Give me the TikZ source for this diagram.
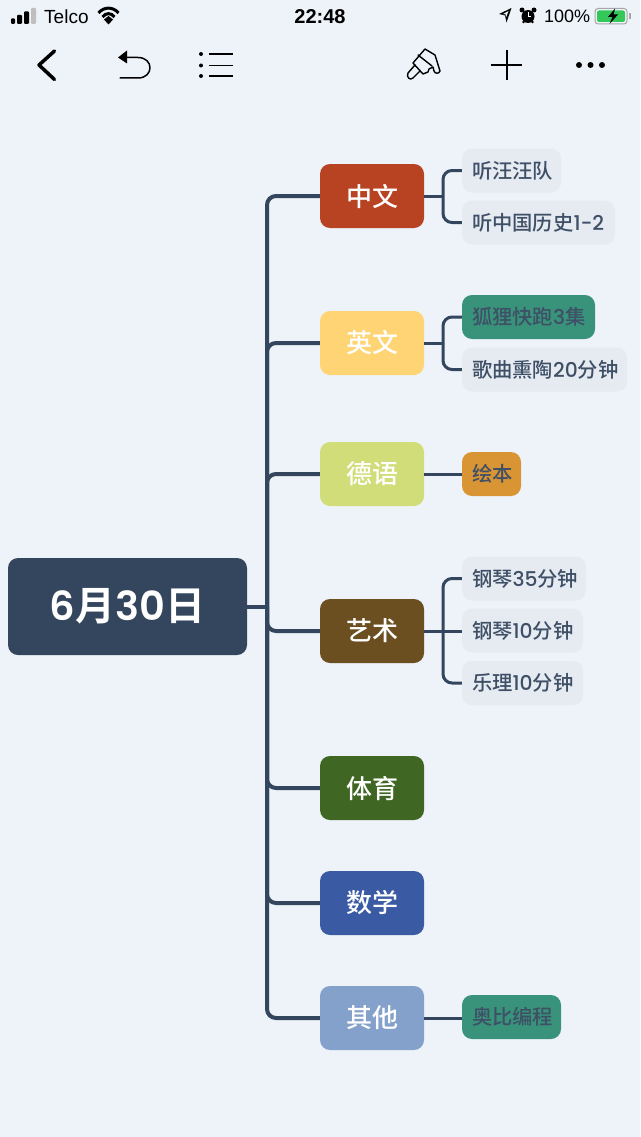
\documentclass[tikz,border=0pt]{standalone}
\usepackage{fontspec}
\setmainfont{Noto Sans CJK SC Medium}[BoldFont={Noto Sans CJK SC Bold}]
\newfontfamily\numfont{Poppins Medium}[BoldFont={Poppins SemiBold}]
\newfontfamily\statusfont{Liberation Sans}
\newcommand\lab[2]{\makebox[\dimexpr#1pt-20pt\relax][l]{#2}}
\usetikzlibrary{calc}
\definecolor{pagebg}{HTML}{EDF3F9}
\definecolor{ink}{HTML}{34465E}
\definecolor{subfill}{HTML}{E6EBF2}
\definecolor{subtext}{HTML}{3E4F66}
\definecolor{cA}{HTML}{B84322}
\definecolor{cB}{HTML}{FFD474}
\definecolor{cC}{HTML}{D0DD78}
\definecolor{cD}{HTML}{6B4F21}
\definecolor{cE}{HTML}{3F6622}
\definecolor{cF}{HTML}{3A5BA3}
\definecolor{cG}{HTML}{84A1CC}
\definecolor{green}{HTML}{38937A}
\definecolor{orange}{HTML}{D99434}
\definecolor{batt}{HTML}{34C759}
\tikzset{
 x=1pt,y=-1pt,
 rootbox/.style={fill=ink,text=white,rounded corners=10pt,minimum width=239pt,minimum height=97pt,inner sep=0pt,font=\fontsize{40}{40}\selectfont\bfseries},
 topic/.style={rounded corners=10pt,minimum width=104pt,minimum height=64pt,inner sep=0pt,text=white,font=\fontsize{26}{26}\selectfont},
 subbox/.style={rounded corners=10pt,minimum height=44pt,inner sep=0pt,text=subtext,fill=subfill,font=\fontsize{20.3}{20.3}\selectfont},
 mainline/.style={draw=ink,line width=4pt,rounded corners=9pt},
 subline/.style={draw=ink,line width=3pt,rounded corners=9pt},
 icon/.style={draw=black,line width=1.5pt,line cap=round,line join=round},
 statustext/.style={inner sep=0pt,text=black,font=\statusfont\fontsize{18}{18}\selectfont},
}
\begin{document}
\begin{tikzpicture}
\useasboundingbox (0,0) rectangle (640,1137);
\fill[pagebg] (0,0) rectangle (640,1137);
% status bar
\fill[black,rounded corners=1pt] (11,18.5) rectangle (15,24);
\fill[black,rounded corners=1pt] (17,15) rectangle (22,24);
\fill[black,rounded corners=1pt] (24,11.5) rectangle (29,24);
\fill[gray!50,rounded corners=1pt] (31,8) rectangle (36,24);
\node[statustext,anchor=west,font=\statusfont\fontsize{19}{19}\selectfont] (telco) at (44,16.5) {Telco};
\draw[black,line width=3pt] (98.5,13) .. controls (104,6.5) and (113,6.5) .. (118.5,13);
\draw[black,line width=3pt] (102.5,17) .. controls (106,12.5) and (111,12.5) .. (114.5,17);
\fill[black] (104,19.5) -- (108.5,16) -- (113,19.5) -- (108.5,24.5) -- cycle;
\node[statustext,font=\statusfont\bfseries\fontsize{20}{20}\selectfont] (clock) at (320,16.5) {22:48};
\fill[black] (499,14) -- (511.5,8) -- (506.5,22.5) -- (505,15.5) -- cycle;
\fill[pagebg] (502.5,14.3) -- (508.5,11) -- (506,17.5) -- (505.5,14) -- cycle;
\fill[black] (528,16.5) circle (6.5pt);
\fill[black] (522,10) circle (2.5pt) (534,10) circle (2.5pt);
\fill[black] (523.5,22) circle (1.3pt) (532.5,22) circle (1.3pt);
\draw[white,line width=1pt] (528,12) -- (528,17) -- (531,17);
\node[statustext,anchor=west] (pct) at (544,16.5) {100\%};
\draw[gray!70,line width=1pt,rounded corners=3pt] (595,8.5) rectangle (627,24);
\fill[batt,rounded corners=2pt] (597,10.5) rectangle (625,22);
\fill[gray!70] (629,13.5) rectangle (630.5,19);
\fill[black] (615,8.5) -- (608,17) -- (612.5,17) -- (609.5,24) -- (618,14.5) -- (613.5,14.5) -- cycle;
% toolbar
\draw[icon,line width=3.5pt] (54.5,51) -- (39,65) -- (54.5,79.5);
\fill[black] (118,57.5) -- (127,50.5) -- (127,63.5) -- cycle;
\draw[icon] (125,57.5) -- (138,57.5) .. controls (154,57.5) and (154,78) .. (138,78) -- (120,78);
\fill[black] (201,54) circle (2pt) (201,65.5) circle (2pt) (201,76) circle (2pt);
\draw[icon,line cap=butt] (209,54) -- (233,54) (209,65.5) -- (233,65.5) (209,76) -- (233,76);
% brush
\draw[icon,line width=1.4pt] (425,49) -- (435,55) -- (440,71) .. controls (439,74) and (435,74) .. (434,71) -- (433,67) -- (429,69) -- (428,72) -- (423,74) -- (413,63) -- cycle;
\draw[icon,line width=1.4pt] (418,55) -- (432,66);
\draw[icon,line width=1.4pt] (415,65) -- (408,73) .. controls (406,77) and (410,81) .. (413,78) -- (420,71);
\draw[icon,line width=1.6pt,line cap=butt] (491,65) -- (522,65) (507,50) -- (507,80);
\fill[black] (579,65) circle (3pt) (590.5,65) circle (3pt) (602,65) circle (3pt);
% nodes
\node[rootbox] (root) at (127.5,606.5) {{\numfont 6}月{\numfont 30}日};
\node[topic,fill=cA] (t1) at (372,196) {中文};
\node[topic,fill=cB] (t2) at (372,343) {英文};
\node[topic,fill=cC] (t3) at (372,474) {德语};
\node[topic,fill=cD] (t4) at (372,631) {艺术};
\node[topic,fill=cE] (t5) at (372,788) {体育};
\node[topic,fill=cF] (t6) at (372,903) {数学};
\node[topic,fill=cG] (t7) at (372,1018) {其他};
\node[subbox,minimum width=99pt] (s11) at (511.5,170.5) {\lab{99}{听汪汪队}};
\node[subbox,minimum width=153pt] (s12) at (538.5,222.5) {\lab{153}{听中国历史{\numfont 1-2}}};
\node[subbox,minimum width=133pt,fill=green] (s21) at (528.5,317) {\lab{133}{狐狸快跑{\numfont 3}集}};
\node[subbox,minimum width=165pt] (s22) at (544.5,369.5) {\lab{165}{歌曲熏陶{\numfont 20}分钟}};
\node[subbox,minimum width=59pt,fill=orange] (s31) at (491.5,474) {\lab{59}{绘本}};
\node[subbox,minimum width=124pt] (s41) at (524,578.5) {\lab{124}{钢琴{\numfont 35}分钟}};
\node[subbox,minimum width=121pt] (s42) at (522.5,630.5) {\lab{121}{钢琴{\numfont 10}分钟}};
\node[subbox,minimum width=121pt] (s43) at (522.5,683) {\lab{121}{乐理{\numfont 10}分钟}};
\node[subbox,minimum width=99pt,fill=green] (s71) at (511.5,1017) {\lab{99}{奥比编程}};
% connectors
\coordinate (spine) at (267,606.5);
\coordinate (f1) at (443,196);
\coordinate (f2) at (443,343);
\coordinate (f4) at (443,631);
\draw[mainline] (root.east) -- (spine);
\foreach \t in {t1,t2,t3,t4,t5,t6,t7}{
 \draw[mainline] (spine) |- (\t.west);
}
\draw[subline] (t1.east) -- (f1);
\draw[subline] (f1) |- (s11.west);
\draw[subline] (f1) |- (s12.west);
\draw[subline] (t2.east) -- (f2);
\draw[subline] (f2) |- (s21.west);
\draw[subline] (f2) |- (s22.west);
\draw[subline] (t3.east) -- (s31.west);
\draw[subline] (t4.east) -- (f4);
\draw[subline] (f4) |- (s41.west);
\draw[subline] (f4) -- (f4 -| s42.west);
\draw[subline] (f4) |- (s43.west);
\draw[subline] (t7.east) -- (t7.east -| s71.west);
\end{tikzpicture}
\end{document}
